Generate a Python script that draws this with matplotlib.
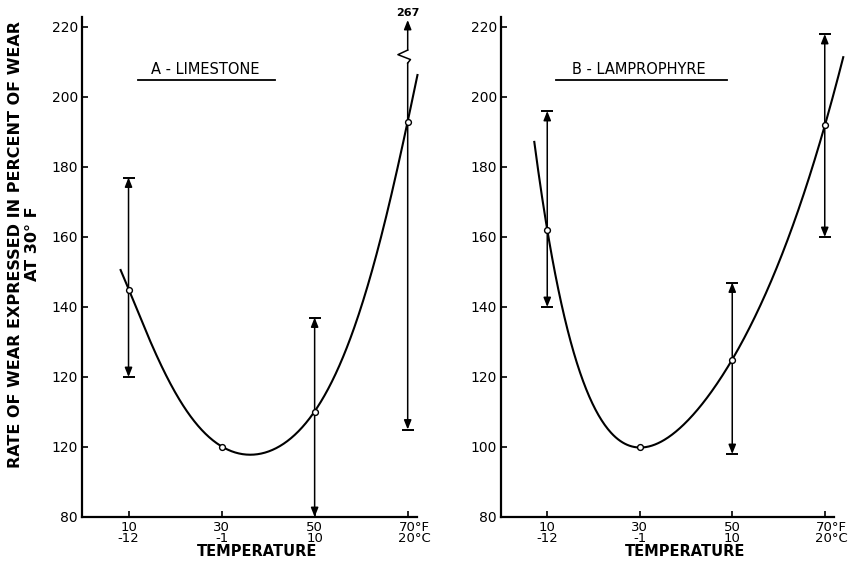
import numpy as np
import matplotlib
matplotlib.use("Agg")
import matplotlib.pyplot as plt
from matplotlib.transforms import ScaledTranslation

plt.rcParams['font.family'] = ['DejaVu Sans']

# Temperatures of the test runs
temp_f = [10, 30, 50, 70]
temp_labels = ["10\n-12", "30\n-1", "50\n10", "70\u00b0F\n20\u00b0C"]

# y tick labels as printed on each panel
yticks = [80, 100, 120, 140, 160, 180, 200, 220]
ytick_labels_a = ["80", "120", "120", "140", "160", "180", "200", "220"]
ytick_labels_b = ["80", "100", "120", "140", "160", "180", "200", "220"]

# A - Limestone: mean rate of wear and range of individual results
wear_a = [145, 100, 110, 193]
low_a = [120, None, 80, 105]
high_a = [177, None, 137, 267]

# B - Lamprophyre
wear_b = [162, 100, 125, 192]
low_b = [140, None, 98, 160]
high_b = [196, None, 147, 218]

# Points along the smoothed wear curves
curve_a_x = [8.3, 10, 14.5, 21.6, 30, 34.5, 41.8, 50, 55.4, 60.3, 65.5, 70, 72.1]
curve_a_y = [151.4, 145, 131.4, 112.6, 100, 98.6, 101.1, 110, 123.5, 142.5, 166.0, 193, 206.5]
curve_b_x = [7.2, 10, 13.4, 17.7, 23.5, 30, 36, 46.6, 50, 58.2, 65.3, 70, 74]
curve_b_y = [186.9, 162, 141, 118.3, 102.9, 100, 102, 119, 125, 145.7, 171.0, 192, 210.5]

YMIN, YMAX = 80, 223
XMIN, XMAX = 0, 72


def smooth_curve(cx, cy, marks_x, xs, deg):
    """Weighted least-squares polynomial, pinned harder at the plotted means."""
    w = np.array([3.0 if x in marks_x else 1.0 for x in cx])
    coef = np.polyfit(cx, cy, deg, w=w)
    return np.polyval(coef, xs)


fig = plt.figure(figsize=(8.57, 5.67), dpi=100)
axA = fig.add_axes([82 / 857, 50 / 567, 335 / 857, 500.5 / 567])
axB = fig.add_axes([501 / 857, 50 / 567, 333 / 857, 500.5 / 567])

HEAD = 'head_length=0.55,head_width=0.22'
ARROW = dict(arrowstyle='<|-|>,' + HEAD, color='black', lw=1.1, shrinkA=0, shrinkB=0)


def draw_range(ax, x, lo, hi):
    if hi <= YMAX:
        ax.annotate('', xy=(x, hi), xytext=(x, lo), arrowprops=ARROW,
                    annotation_clip=False)
        ax.plot([x], [hi], marker='_', ms=8, mew=1.4, color='black', clip_on=False)
    else:
        # range exceeds the scale: broken line with the value written on top
        top = YMAX - 1
        brk_lo, brk_hi = 209.7, 213.4
        ax.annotate('', xy=(x, brk_lo), xytext=(x, lo),
                    arrowprops=dict(arrowstyle='<|-,' + HEAD, color='black', lw=1.1,
                                    shrinkA=0, shrinkB=0))
        ax.plot([x, x + 0.6, x - 2.1, x], [brk_lo, brk_lo + 1.0, brk_lo + 2.4, brk_hi],
                color='black', lw=1.1, clip_on=False)
        ax.annotate('', xy=(x, top), xytext=(x, brk_hi),
                    arrowprops=dict(arrowstyle='-|>,' + HEAD, color='black', lw=1.1,
                                    shrinkA=0, shrinkB=0),
                    annotation_clip=False)
        ax.text(x, top + 0.6, f"{hi}", ha='center', va='bottom', fontsize=8,
                fontweight='bold', clip_on=False)
    if lo > YMIN:
        ax.plot([x], [lo], marker='_', ms=8, mew=1.4, color='black', clip_on=False)


def panel(ax, wear, low, high, cx, cy, deg, ylabels, title, title_x, ul):
    xs = np.linspace(cx[0], cx[-1], 400)
    ax.plot(xs, smooth_curve(cx, cy, temp_f, xs, deg), color='black', lw=1.5,
            clip_on=False, zorder=3)
    for x, lo, hi in zip(temp_f, low, high):
        if lo is not None:
            draw_range(ax, x, lo, hi)
    ax.plot(temp_f, wear, linestyle='none', marker='o', ms=4.2, mfc='white',
            mec='black', mew=1.0, zorder=4, clip_on=False)

    ax.set_xlim(XMIN, XMAX)
    ax.set_ylim(YMIN, YMAX)
    ax.set_yticks(yticks)
    ax.set_yticklabels(ylabels)
    ax.set_xticks(temp_f)
    ax.set_xticklabels(temp_labels, linespacing=0.78)
    for s in ('top', 'right'):
        ax.spines[s].set_visible(False)
    for s in ('left', 'bottom'):
        ax.spines[s].set_linewidth(1.6)
    ax.tick_params(direction='in', length=4, width=1.2, labelsize=10, pad=3)
    ax.tick_params(axis='x', labelsize=9.5, pad=3)
    last = ax.get_xticklabels()[-1]
    last.set_transform(last.get_transform() + ScaledTranslation(7 / 100, 0, fig.dpi_scale_trans))

    ax.text(title_x, 208, title, ha='center', va='center', fontsize=10.5)
    ax.plot(ul, [205.0, 205.0], color='black', lw=1.3)


panel(axA, wear_a, low_a, high_a, curve_a_x, curve_a_y, 6, ytick_labels_a,
      "A - LIMESTONE", 26.4, [12.0, 41.4])
panel(axB, wear_b, low_b, high_b, curve_b_x, curve_b_y, 5, ytick_labels_b,
      "B - LAMPROPHYRE", 29.9, [11.9, 48.8])

fig.text(257 / 857, 1 - 551 / 567, "TEMPERATURE", ha='center', va='center',
         fontsize=10.5, fontweight='bold')
fig.text(685 / 857, 1 - 551 / 567, "TEMPERATURE", ha='center', va='center',
         fontsize=10.5, fontweight='bold')
fig.text(24 / 857, 1 - 244 / 567,
         "RATE OF WEAR EXPRESSED IN PERCENT OF WEAR\nAT 30\u00b0 F",
         rotation=90, ha='center', va='center', fontsize=11.5, fontweight='bold',
         multialignment='center', linespacing=1.1)

fig.savefig("out.png", dpi=100)
